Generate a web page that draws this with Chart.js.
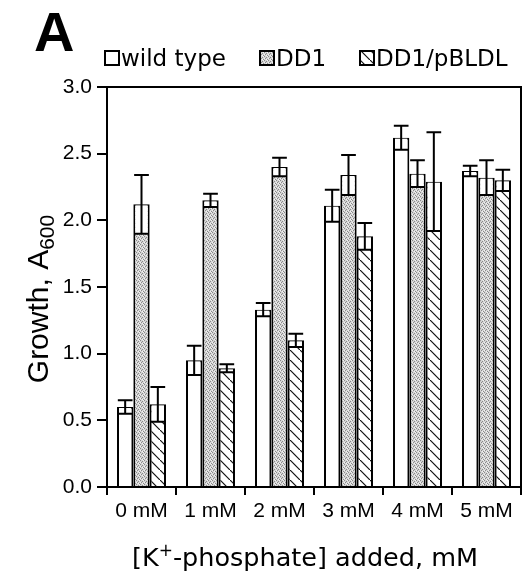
<!DOCTYPE html>
<html>
<head>
<meta charset="utf-8">
<script src="https://cdn.jsdelivr.net/npm/chart.js@4.4.0/dist/chart.umd.min.js"></script>
<style>
  html, body { margin: 0; padding: 0; background: #fff; }
  canvas { display: block; }
</style>
</head>
<body>
<canvas id="growth" width="525" height="571"></canvas>
<script>
// Growth (A600) after adding K+-phosphate
const categories = ['0 mM', '1 mM', '2 mM', '3 mM', '4 mM', '5 mM'];
const wildType    = [0.60, 0.95, 1.33, 2.11, 2.62, 2.37];
const wildTypeErr = [0.05, 0.11, 0.05, 0.12, 0.09, 0.04];
const dd1         = [2.12, 2.15, 2.40, 2.34, 2.35, 2.32];
const dd1Err      = [0.22, 0.05, 0.07, 0.15, 0.10, 0.13];
const dd1Plasmid    = [0.62, 0.89, 1.10, 1.88, 2.29, 2.30];
const dd1PlasmidErr = [0.13, 0.03, 0.05, 0.10, 0.37, 0.08];
const yTicks = [0, 0.5, 1.0, 1.5, 2.0, 2.5, 3.0];
const seriesNames = ['wild type', 'DD1', 'DD1/pBLDL'];

const canvas = document.getElementById('growth');
const ctx = canvas.getContext('2d');

// diagonal hatch fill
function makeHatch() {
  const c = document.createElement('canvas');
  c.width = 10; c.height = 10;
  const g = c.getContext('2d');
  g.fillStyle = '#fff';
  g.fillRect(0, 0, 10, 10);
  g.strokeStyle = '#111';
  g.lineWidth = 1.2;
  g.beginPath();
  g.moveTo(-2, -2); g.lineTo(12, 12);
  g.stroke();
  return ctx.createPattern(c, 'repeat');
}

// fine grey stipple fill
function makeStipple() {
  const c = document.createElement('canvas');
  c.width = 4; c.height = 4;
  const g = c.getContext('2d');
  g.fillStyle = '#d4d4d4';
  g.fillRect(0, 0, 4, 4);
  g.fillStyle = '#8a8a8a';
  [[0, 0], [2, 1], [1, 2], [3, 3]].forEach(([x, y]) => g.fillRect(x, y, 1, 1));
  g.fillStyle = '#f2f2f2';
  [[2, 3], [0, 2], [3, 0]].forEach(([x, y]) => g.fillRect(x, y, 1, 1));
  return ctx.createPattern(c, 'repeat');
}

const hatch = makeHatch();
const stipple = makeStipple();
const fills = ['#ffffff', stipple, hatch];

// outer frame: top and right edges of the plot box
const framePlugin = {
  id: 'frame',
  afterDatasetsDraw(chart) {
    const { ctx, chartArea: a } = chart;
    ctx.save();
    ctx.strokeStyle = '#000';
    ctx.lineWidth = 2;
    ctx.beginPath();
    ctx.moveTo(a.left, a.top);
    ctx.lineTo(a.right, a.top);
    ctx.lineTo(a.right, a.bottom);
    ctx.stroke();
    ctx.restore();
  }
};

// error bars: cap above the bar, open box below the bar top
const errorBarPlugin = {
  id: 'errorBars',
  afterDatasetsDraw(chart) {
    const { ctx } = chart;
    const y = chart.scales.y;
    ctx.save();
    ctx.strokeStyle = '#000';
    ctx.lineWidth = 2;
    chart.data.datasets.forEach((ds, i) => {
      const meta = chart.getDatasetMeta(i);
      meta.data.forEach((bar, j) => {
        const v = ds.data[j], e = ds.err[j];
        const yTop = y.getPixelForValue(v);
        const yHi = y.getPixelForValue(v + e);
        const yLo = y.getPixelForValue(v - e);
        const w = bar.width;
        const left = bar.x - w / 2, right = bar.x + w / 2;
        ctx.fillStyle = '#fff';
        ctx.fillRect(left + 2, yTop + 1, w - 4, yLo - yTop - 1);
        const capHalf = w * 0.45;
        ctx.beginPath();
        ctx.moveTo(bar.x, yHi); ctx.lineTo(bar.x, yLo);
        ctx.moveTo(bar.x - capHalf, yHi); ctx.lineTo(bar.x + capHalf, yHi);
        ctx.moveTo(left + 1, yLo); ctx.lineTo(right - 1, yLo);
        ctx.stroke();
      });
    });
    ctx.restore();
  }
};

// panel letter, legend and axis titles
const textPlugin = {
  id: 'texts',
  afterDraw(chart) {
    const { ctx } = chart;
    ctx.save();
    ctx.fillStyle = '#000';
    ctx.textBaseline = 'alphabetic';

    ctx.font = 'bold 56px "Liberation Sans", Arial, sans-serif';
    ctx.textAlign = 'left';
    ctx.fillText('A', 34, 51);

    // legend
    const legendX = [104, 259, 359];
    ctx.font = '23px "DejaVu Sans", Verdana, sans-serif';
    seriesNames.forEach((name, i) => {
      const bx = legendX[i], by = 50, bs = 15;
      ctx.fillStyle = fills[i];
      ctx.fillRect(bx, by, bs, bs);
      ctx.strokeStyle = '#000';
      ctx.lineWidth = 2;
      ctx.strokeRect(bx + 1, by + 1, bs - 1, bs - 1);
      ctx.fillStyle = '#000';
      ctx.fillText(name, bx + bs + 2, 66);
    });

    // x-axis title with superscript
    const big = '25.5px "DejaVu Sans", Verdana, sans-serif';
    const small = '17px "DejaVu Sans", Verdana, sans-serif';
    ctx.font = big;
    const p1 = '[K', sup = '+', p2 = '-phosphate] added, mM';
    const w1 = ctx.measureText(p1).width;
    const w3 = ctx.measureText(p2).width;
    ctx.font = small;
    const w2 = ctx.measureText(sup).width;
    let x = 305 - (w1 + w2 + w3) / 2;
    const base = 566;
    ctx.font = big;
    ctx.fillText(p1, x, base); x += w1;
    ctx.font = small;
    ctx.fillText(sup, x, base - 10); x += w2;
    ctx.font = big;
    ctx.fillText(p2, x, base);

    // y-axis title with subscript
    ctx.translate(48, 299);
    ctx.rotate(-Math.PI / 2);
    const yBig = '30px "Liberation Sans", Arial, sans-serif';
    const ySmall = '21px "Liberation Sans", Arial, sans-serif';
    ctx.font = yBig;
    const t1 = 'Growth, A', t2 = '600';
    const tw1 = ctx.measureText(t1).width;
    ctx.font = ySmall;
    const tw2 = ctx.measureText(t2).width;
    let tx = -(tw1 + tw2) / 2;
    ctx.font = yBig;
    ctx.fillText(t1, tx, 0); tx += tw1;
    ctx.font = ySmall;
    ctx.fillText(t2, tx, 6);
    ctx.restore();
  }
};

const tickFont = { family: '"Liberation Sans", Arial, sans-serif', size: 21 };

new Chart(ctx, {
  type: 'bar',
  data: {
    labels: categories,
    datasets: [
      { label: seriesNames[0], data: wildType, err: wildTypeErr, backgroundColor: fills[0] },
      { label: seriesNames[1], data: dd1, err: dd1Err, backgroundColor: fills[1] },
      { label: seriesNames[2], data: dd1Plasmid, err: dd1PlasmidErr, backgroundColor: fills[2] }
    ]
  },
  options: {
    responsive: false,
    animation: false,
    layout: { padding: { top: 87, right: 4, left: 0, bottom: 0 } },
    datasets: {
      bar: {
        categoryPercentage: 0.71,
        barPercentage: 1,
        borderColor: '#000',
        borderWidth: 2
      }
    },
    plugins: {
      legend: { display: false },
      tooltip: { enabled: false }
    },
    scales: {
      x: {
        offset: true,
        grid: { offset: true, drawOnChartArea: false, drawTicks: true, tickLength: 8, color: '#000', lineWidth: 2 },
        border: { display: true, color: '#000', width: 2 },
        ticks: { font: tickFont, color: '#000', padding: 4, maxRotation: 0, autoSkip: false },
        afterFit(scale) { scale.height = 84; }
      },
      y: {
        min: 0,
        max: 3,
        afterBuildTicks(scale) { scale.ticks = yTicks.map(v => ({ value: v })); },
        grid: { drawOnChartArea: false, drawTicks: true, tickLength: 10, color: '#000', lineWidth: 2 },
        border: { display: true, color: '#000', width: 2 },
        ticks: { font: tickFont, color: '#000', padding: 5, callback: v => Number(v).toFixed(1) },
        afterFit(scale) { scale.width = 107; }
      }
    }
  },
  plugins: [framePlugin, errorBarPlugin, textPlugin]
});
</script>
</body>
</html>
